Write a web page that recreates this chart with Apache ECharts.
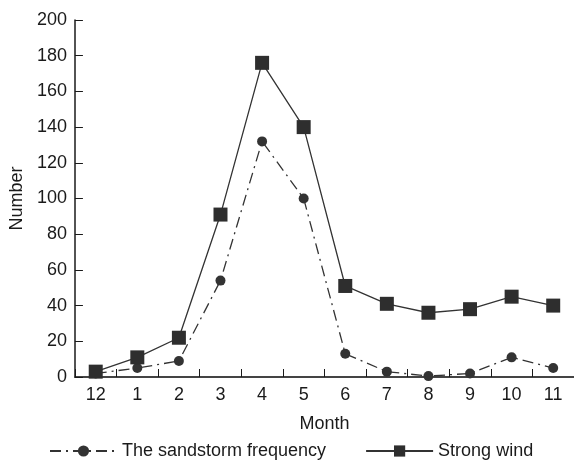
<!DOCTYPE html>
<html>
<head>
<meta charset="utf-8">
<script src="https://cdn.jsdelivr.net/npm/echarts@6/dist/echarts.min.js"></script>
<style>
  html, body { margin: 0; padding: 0; background: #fff; }
  #main { width: 574px; height: 460px; }
</style>
</head>
<body>
<div id="main"></div>
<script>
// months, Dec to Nov
var months = ["12", "1", "2", "3", "4", "5", "6", "7", "8", "9", "10", "11"];
var sandstorm = [2, 5, 9, 54, 132, 100, 13, 3, 0.5, 2, 11, 5];
var strongWind = [3, 11, 22, 91, 176, 140, 51, 41, 36, 38, 45, 40];

var font = "Liberation Sans, Arial, sans-serif";
var ink = "#1a1a1a";

var myChart = echarts.init(document.getElementById("main"));

var option = {
  animation: false,
  textStyle: { fontFamily: font },
  grid: { left: 69, right: 0, top: 20, bottom: 83 },
  xAxis: {
    type: "category",
    data: months,
    boundaryGap: true,
    name: "Month",
    nameLocation: "middle",
    nameGap: 38,
    nameTextStyle: { fontSize: 18, color: ink, fontFamily: font },
    axisLine: { show: true, lineStyle: { color: "#444", width: 2 } },
    axisTick: { show: true, inside: true, length: 8, lineStyle: { color: ink, width: 1 } },
    axisLabel: { fontSize: 18, color: ink, margin: 9, fontFamily: font },
    splitLine: { show: false }
  },
  yAxis: {
    type: "value",
    min: 0,
    max: 200,
    interval: 20,
    name: "Number",
    nameLocation: "middle",
    nameGap: 45,
    nameTextStyle: { fontSize: 18, color: ink, fontFamily: font },
    axisLine: { show: true, lineStyle: { color: ink, width: 1.5 } },
    axisTick: { show: true, inside: true, length: 8, lineStyle: { color: ink, width: 1 } },
    axisLabel: { fontSize: 18, color: ink, margin: 8, fontFamily: font },
    splitLine: { show: false }
  },
  legend: {
    left: 44,
    top: 437,
    itemWidth: 67,
    itemHeight: 14,
    itemGap: 39,
    textStyle: { fontSize: 18, color: ink, fontFamily: font },
    data: ["The sandstorm frequency", "Strong wind"]
  },
  series: [
    {
      name: "The sandstorm frequency",
      type: "line",
      data: sandstorm,
      symbol: "circle",
      symbolSize: 10,
      itemStyle: { color: "#333" },
      lineStyle: { color: "#333", width: 1.3, type: [11, 5, 2, 5] }
    },
    {
      name: "Strong wind",
      type: "line",
      data: strongWind,
      symbol: "rect",
      symbolSize: 14,
      itemStyle: { color: "#2e2e2e" },
      lineStyle: { color: "#333", width: 1.3 }
    }
  ]
};

myChart.setOption(option);
</script>
</body>
</html>
